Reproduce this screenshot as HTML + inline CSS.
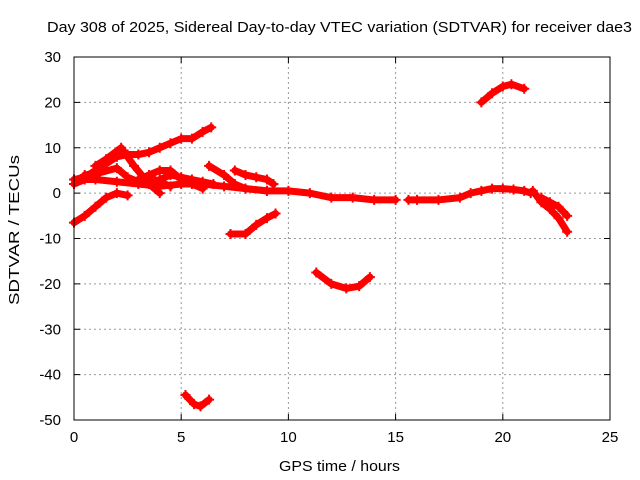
<!DOCTYPE html>
<html><head><meta charset="utf-8"><style>
html,body{margin:0;padding:0;background:#fff;}
svg{display:block;font-family:"Liberation Sans",sans-serif;}
</style></head><body>
<svg id="chart" width="640" height="480">
<text x="339.5" y="32" font-size="15" text-anchor="middle" textLength="585" lengthAdjust="spacingAndGlyphs">Day 308 of 2025, Sidereal Day-to-day VTEC variation (SDTVAR) for receiver dae3</text>
<text x="339.5" y="471" font-size="15" text-anchor="middle" textLength="121" lengthAdjust="spacingAndGlyphs">GPS time / hours</text>
<text transform="translate(19,230) rotate(-90)" font-size="15" text-anchor="middle" textLength="150" lengthAdjust="spacingAndGlyphs">SDTVAR / TECUs</text>
<g id="grid"></g><g id="marks"></g>
<rect x="74" y="57" width="536" height="363" fill="none" stroke="#000" stroke-width="1"/>
</svg>
<script>
const xTicks=[0,5,10,15,20,25];
const yTicks=[30,20,10,0,-10,-20,-30,-40,-50];
const trackA=[[0,3],[0.5,3.5],[1,5],[1.5,6.5],[2,8],[2.5,8.5],[3,8.5],[3.5,9],[4,10],[4.5,11],[5,12],[5.5,12],[6,13.5],[6.4,14.5]];
const trackB=[[0,-6.5],[0.5,-5],[1,-3],[1.5,-1],[2,0],[2.5,-0.5]];
const trackC=[[0,2],[0.5,3],[1,3],[2,2.5],[3,2],[4,1.5],[5,2],[6,2],[7,1.5],[8,1],[9,0.5],[10,0.5],[11,0],[12,-1],[13,-1],[14,-1.5],[15,-1.5]];
const trackC2=[[15.6,-1.5],[16,-1.5],[17,-1.5],[18,-1],[18.5,0],[19,0.5],[19.5,1],[20,1],[20.5,0.8],[21,0.5],[21.3,0]];
const trackD=[[1,6],[1.5,7.5],[2.2,10],[2.8,6],[3.5,2],[4,0]];
const trackD2=[[0.5,4],[1.2,4.5],[2,5.5],[2.5,3.5],[3,2.5],[3.5,3.5],[4,2.5],[4.5,1.5]];
const trackE=[[3,3],[3.5,4],[4,5],[4.5,5],[5,3],[5.5,2],[6,1]];
const trackE2=[[4,3],[4.5,4],[5,3.5],[5.5,3],[6,2.5],[6.5,2]];
const trackF=[[6.3,6],[7,4],[7.5,2],[8,1],[9,0.5]];
const trackG=[[7.5,5],[8,4],[8.5,3.5],[9,3],[9.3,2]];
const trackH=[[7.3,-9],[8,-9],[8.5,-7],[9,-5.5],[9.4,-4.5]];
const trackI=[[11.3,-17.5],[12,-20],[12.7,-21],[13.3,-20.5],[13.8,-18.5]];
const trackJ=[[5.2,-44.5],[5.6,-46.5],[5.9,-47],[6.3,-45.5]];
const trackK=[[19,20],[19.5,22],[20,23.5],[20.4,24],[21,23]];
const trackL=[[21.4,0.5],[21.8,-2],[22.2,-3.5],[22.6,-5.5],[23,-8.5]];
const trackL2=[[21.8,-1],[22.2,-2],[22.6,-3],[23,-5]];
const tracks=[trackA,trackB,trackC,trackC2,trackD,trackD2,trackE,trackE2,trackF,trackG,trackH,trackI,trackJ,trackK,trackL,trackL2];
const X0=74,X1=610,Y0=420,Y1=57;
function sx(v){return X0+(v-0)/25*(X1-X0);}
function sy(v){return Y0-(v+50)/80*(Y0-Y1);}
const NS="http://www.w3.org/2000/svg";
const g=document.getElementById('grid'),m=document.getElementById('marks');
function mk(t,a,p){const e=document.createElementNS(NS,t);for(const k in a)e.setAttribute(k,a[k]);p.appendChild(e);return e;}
xTicks.forEach(v=>{const x=sx(v);
 if(v>0&&v<25){const l=mk('line',{x1:x,x2:x,y1:Y1,y2:Y0,stroke:'#999','stroke-dasharray':'2,3'},g);
 
 }
 mk('line',{x1:x,x2:x,y1:Y0,y2:Y0-6,stroke:'#000'},g);mk('line',{x1:x,x2:x,y1:Y1,y2:Y1+6,stroke:'#000'},g);
 const t=mk('text',{x:x,y:Y0+22,'font-size':15,'text-anchor':'middle'},g);t.textContent=v;
 
 });
yTicks.forEach(v=>{const y=sy(v);
 if(v>-50&&v<30){const l=mk('line',{x1:X0,x2:X1,y1:y,y2:y,stroke:'#999','stroke-dasharray':'2,3'},g);
 
 }
 mk('line',{x1:X0,x2:X0+6,y1:y,y2:y,stroke:'#000'},g);mk('line',{x1:X1,x2:X1-6,y1:y,y2:y,stroke:'#000'},g);
 const t=mk('text',{x:X0-13,y:y+5,'font-size':15,'text-anchor':'end'},g);t.textContent=v;
 
 });
tracks.forEach(tr=>{
 const p=mk('polyline',{points:tr.map(d=>sx(d[0])+','+sy(d[1])).join(' '),fill:'none',stroke:'#f00','stroke-width':7,'stroke-linejoin':'round','stroke-linecap':'round'},m);
 
 
 tr.forEach(d=>{const x=sx(d[0]),y=sy(d[1]);
  const c=mk('path',{d:`M${x-5},${y}H${x+5}M${x},${y-5}V${y+5}`,stroke:'#f00','stroke-width':2},m);
  
  });
});
</script>
</body></html>
